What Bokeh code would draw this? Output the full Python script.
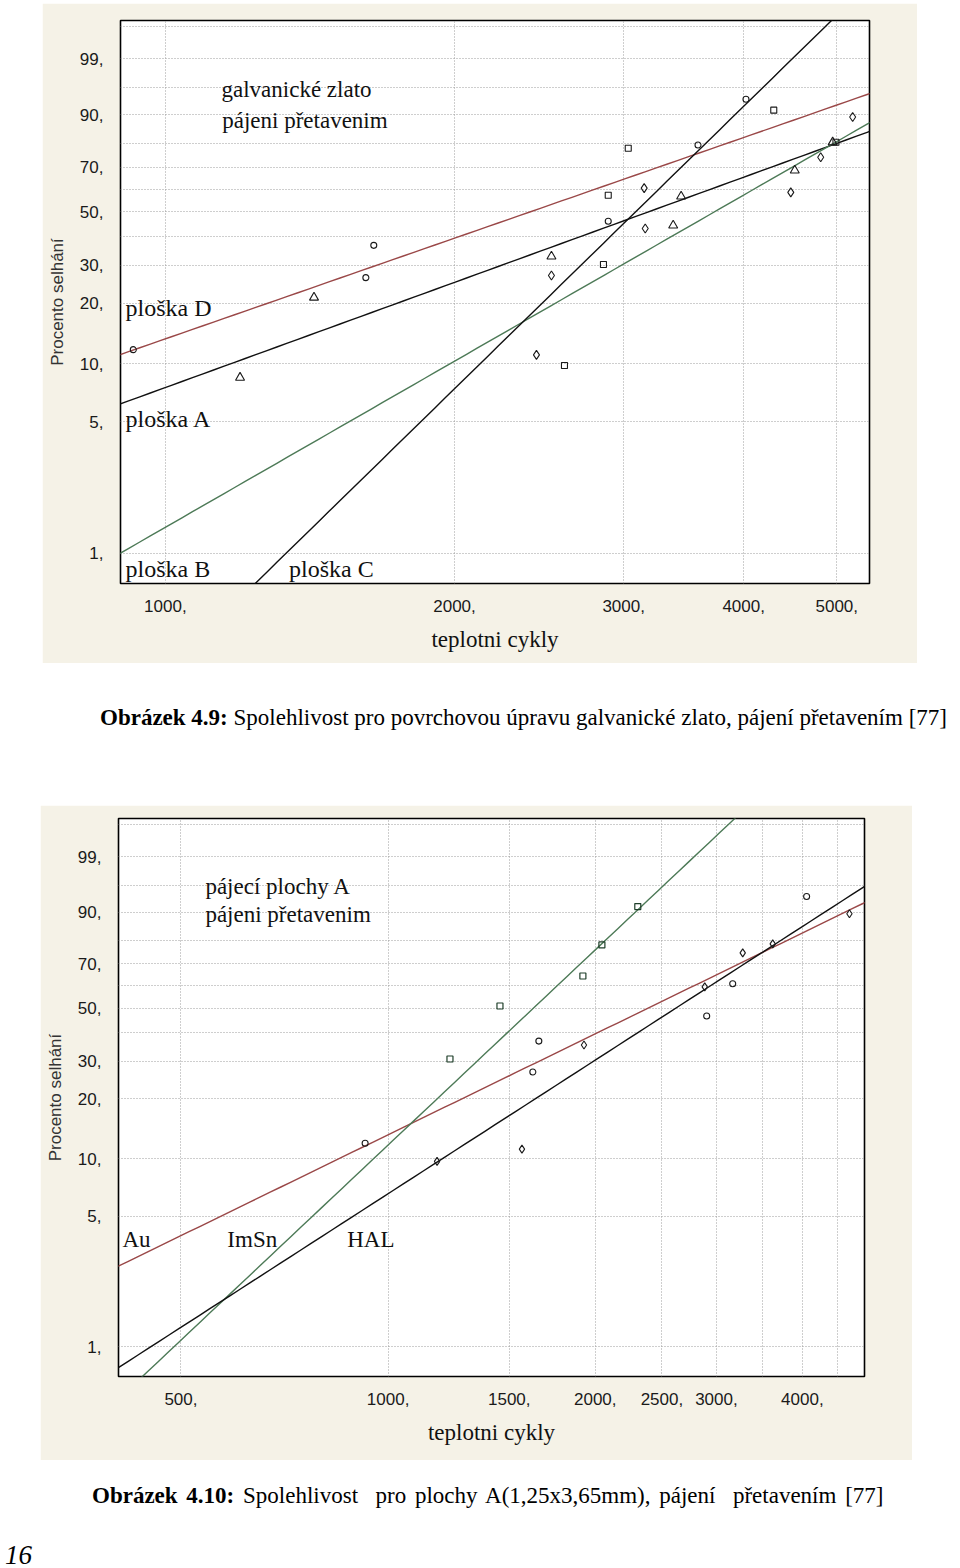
import numpy as np
from bokeh.plotting import figure
from bokeh.models import FixedTicker, CustomJSTickFormatter, Label, Div
from bokeh.layouts import column
from bokeh.embed import file_html
from bokeh.resources import INLINE

# ---------------- shared axis values ----------------
y_tick_pct = [1, 5, 10, 20, 30, 50, 70, 90, 99]
y_grid_extra_pct = [40, 60, 80, 96, 99.9]

# ---------------- Obrázek 4.9 data ----------------
x1_ticks = [1000, 2000, 3000, 4000, 5000]
x1_range = (898, 5408)
y_range_pct = (0.69, 99.94)

d_cycles = [926, 1617, 1648, 2891, 3585, 4022]
d_pct = [11.8, 26.4, 36.7, 46.0, 79.5, 93.9]
a_cycles = [1196, 1428, 2523, 3378, 3443, 4521, 4951]
a_pct = [8.5, 21.3, 32.9, 44.3, 56.8, 68.6, 80.6]
b_cycles = [2434, 2523, 3159, 3151, 4478, 4811, 5194]
b_pct = [11.1, 27.0, 43.1, 60.5, 58.6, 74.4, 89.4]
c_cycles = [2603, 2858, 2891, 3033, 4299, 4990]
c_pct = [9.8, 30.3, 57.3, 78.2, 91.3, 80.6]
# Weibull fits: (shape beta, scale eta)
fit_d = (1.80, 2940)
fit_a = (1.88, 3870)
fit_b = (2.97, 4220)
fit_c = (5.05, 3320)

# ---------------- Obrázek 4.10 data ----------------
x2_ticks = [500, 1000, 1500, 2000, 2500, 3000, 4000]
x2_grid = [500, 1000, 1500, 2000, 2500, 3000, 3500, 4000, 4500]
x2_range = (405.7, 4924)

au_cycles = [926, 1623, 1656, 2904, 3168, 4057]
au_pct = [12.0, 26.8, 36.8, 46.6, 60.9, 93.9]
imsn_cycles = [1230, 1454, 1919, 2045, 2306]
imsn_pct = [30.7, 50.9, 64.5, 78.3, 91.5]
hal_cycles = [1178, 1565, 1926, 2885, 3276, 3622, 4682]
hal_pct = [9.7, 11.2, 35.4, 59.5, 74.9, 78.7, 89.5]
fit_au = (1.82, 2920)
fit_imsn = (3.52, 1805)
fit_hal = (2.41, 3050)

BEIGE = "#F5F2E7"
RED = "#9a4848"
GREEN = "#4d7a57"


def wb(p):
    """percent -> Weibull probability ordinate ln(-ln(1-F))"""
    p = np.asarray(p, dtype=float) / 100.0
    return np.log(-np.log(1.0 - p))


def fit_line(p, fit, xr, color):
    beta, eta = fit
    xs = np.geomspace(xr[0] * 0.9, xr[1] * 1.1, 80)
    ys = beta * (np.log(xs) - np.log(eta))
    p.line(xs, ys, line_color=color, line_width=1.4)


def base_fig(width, height, xr, borders, xticks, xgrid):
    left, right, top, bottom = borders
    p = figure(width=width, height=height, x_axis_type="log",
               x_range=xr, y_range=(float(wb(y_range_pct[0])), float(wb(y_range_pct[1]))),
               output_backend="svg", toolbar_location=None,
               min_border_left=left, min_border_right=right,
               min_border_top=top, min_border_bottom=bottom)
    p.border_fill_color = BEIGE
    p.background_fill_color = "white"
    p.outline_line_color = "black"
    p.outline_line_width = 1.6

    p.xaxis.ticker = FixedTicker(ticks=xticks)
    p.xaxis.formatter = CustomJSTickFormatter(code="return tick.toFixed(0) + ','")
    p.yaxis.ticker = FixedTicker(ticks=[float(v) for v in wb(y_tick_pct)])
    p.yaxis.formatter = CustomJSTickFormatter(
        code="return Math.round(100*(1-Math.exp(-Math.exp(tick)))) + ','")
    for ax in (p.xaxis, p.yaxis):
        ax.axis_line_color = None
        ax.major_tick_line_color = None
        ax.minor_tick_line_color = None
        ax.major_label_text_font = "Liberation Sans"
        ax.major_label_text_font_size = "17px"
        ax.major_label_text_color = "#1a1a1a"
    p.xaxis.major_label_standoff = 10
    p.yaxis.major_label_standoff = 11
    p.xaxis.axis_label = "teplotni cykly"
    p.xaxis.axis_label_text_font = "Liberation Serif"
    p.xaxis.axis_label_text_font_style = "normal"
    p.xaxis.axis_label_text_font_size = "23px"
    p.xaxis.axis_label_text_color = "#111111"
    p.xaxis.axis_label_standoff = 12
    p.yaxis.axis_label = "Procento selhání"
    p.yaxis.axis_label_text_font = "Liberation Sans"
    p.yaxis.axis_label_text_font_style = "normal"
    p.yaxis.axis_label_text_font_size = "17px"
    p.yaxis.axis_label_text_color = "#333333"
    p.yaxis.axis_label_standoff = 10

    p.xgrid.ticker = FixedTicker(ticks=xgrid)
    p.ygrid.ticker = FixedTicker(ticks=[float(v) for v in wb(y_tick_pct + y_grid_extra_pct)])
    p.grid.grid_line_color = "#9c9c9c"
    p.grid.grid_line_dash = "1 2"
    p.grid.grid_line_width = 1
    return p


def add_label(p, x, pct, text, size="23px"):
    p.add_layout(Label(x=x, y=float(wb(pct)), text=text,
                       text_font="Liberation Serif", text_font_size=size,
                       text_color="#111111", text_align="left",
                       text_baseline="alphabetic"))


MK = dict(fill_color=None, line_color="#1a1a1a", line_width=1.1)

# ================= Figure 4.9 =================
p1 = base_fig(875, 660, x1_range, (76, 48, 17, 80), x1_ticks, x1_ticks)
p1.margin = (3, 0, 0, 42)
fit_line(p1, fit_d, x1_range, RED)
fit_line(p1, fit_a, x1_range, "#111111")
fit_line(p1, fit_b, x1_range, GREEN)
fit_line(p1, fit_c, x1_range, "#111111")
p1.scatter(d_cycles, wb(d_pct), marker="circle", size=6, **MK)
p1.scatter(a_cycles, wb(a_pct), marker="triangle", size=9, **MK)
p1.scatter(b_cycles, wb(b_pct), marker="diamond", size=9, **MK)
p1.scatter(c_cycles, wb(c_pct), marker="square", size=6, **MK)
add_label(p1, 1144, 95.8, "galvanické zlato")
add_label(p1, 1146, 88.4, "pájeni přetavenim")
add_label(p1, 909, 18.9, "ploška D", "24px")
add_label(p1, 909, 5.18, "ploška A", "24px")
add_label(p1, 909, 0.823, "ploška B", "24px")
add_label(p1, 1345, 0.823, "ploška C", "24px")

# ================= Figure 4.10 =================
p2 = base_fig(872, 655, x2_range, (78, 47, 13, 84), x2_ticks, x2_grid)
p2.margin = (75, 0, 0, 40)
fit_line(p2, fit_au, x2_range, RED)
fit_line(p2, fit_imsn, x2_range, GREEN)
fit_line(p2, fit_hal, x2_range, "#111111")
p2.scatter(au_cycles, wb(au_pct), marker="circle", size=6, **MK)
p2.scatter(imsn_cycles, wb(imsn_pct), marker="square", size=6, fill_color=None,
           line_color="#1f3f2a", line_width=1.2)
p2.scatter(hal_cycles, wb(hal_pct), marker="diamond", size=8, **MK)
add_label(p2, 542.6, 95.8, "pájecí plochy A")
add_label(p2, 542.6, 89.2, "pájeni přetavenim")
add_label(p2, 411, 3.77, "Au")
add_label(p2, 584, 3.77, "ImSn")
add_label(p2, 872, 3.77, "HAL")

# ================= captions =================
CAP = "font-family:'Liberation Serif';font-size:23px;line-height:24px;white-space:pre;color:#000"
cap1 = Div(text=f'<div style="{CAP}"><b>Obrázek 4.9:</b> Spolehlivost pro povrchovou úpravu galvanické zlato, pájení přetavením [77]</div>',
           width=860, height=24, margin=(43, 0, 0, 100))
cap2 = Div(text=f'<div style="{CAP};word-spacing:3px"><b>Obrázek 4.10:</b> Spolehlivost  pro plochy A(1,25x3,65mm), pájení  přetavením [77]</div>',
           width=860, height=24, margin=(24, 0, 0, 92))
page = Div(text='<div style="font-family:\'Liberation Serif\';font-style:italic;font-size:27px;line-height:24px;color:#000">16</div>',
           width=40, height=24, margin=(35, 0, 0, 5))

layout = column(p1, cap1, p2, cap2, page, spacing=0)

open("out.html", "w").write(file_html(layout, INLINE))
